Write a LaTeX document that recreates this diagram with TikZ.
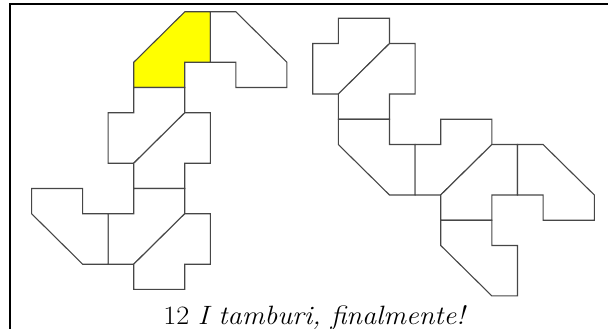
\documentclass[tikz,border=0pt]{standalone}
\usepackage{fontspec}
\usepackage{graphicx}
\usepackage{tikz}
\definecolor{edgegray}{RGB}{70,70,70}
\definecolor{drumyellow}{RGB}{255,255,0}
\tikzset{
  piece/.style={draw=edgegray, line width=1.1pt, line join=miter, fill=white},
  hilite/.style={piece, fill=drumyellow},
  frameline/.style={draw=black, line width=2.2pt},
  captiontext/.style={anchor=base, inner sep=0pt, font=\fontsize{26.5}{31}\selectfont}
}
\begin{document}
\begin{tikzpicture}[x=1pt,y=-1pt]
\useasboundingbox (0,0) rectangle (608,329);
\begin{scope}
\clip (0,0) rectangle (608,329);
\draw[frameline] (10,4) rectangle (720,420);
\end{scope}
% left figure
\begin{scope}[shift={(31.6pt,-11.8pt)}, x=25.53pt, y=-25.24pt]
\draw[hilite] (4,2) -- (6,0) -- (7,0) -- (7,2) -- (6,2) -- (6,3) -- (4,3) -- cycle;
\draw[piece] (7,0) -- (8,0) -- (10,2) -- (10,3) -- (8,3) -- (8,2) -- (7,2) -- cycle;
\draw[piece] (4,3) -- (6,3) -- (6,4) -- (4,6) -- (3,6) -- (3,4) -- (4,4) -- cycle;
\draw[piece] (6,4) -- (7,4) -- (7,6) -- (6,6) -- (6,7) -- (4,7) -- (4,6) -- cycle;
\draw[piece] (4,7) -- (6,7) -- (6,8) -- (4,10) -- (3,10) -- (3,8) -- (4,8) -- cycle;
\draw[piece] (6,8) -- (7,8) -- (7,10) -- (6,10) -- (6,11) -- (4,11) -- (4,10) -- cycle;
\draw[piece] (0,7) -- (2,7) -- (2,8) -- (3,8) -- (3,10) -- (2,10) -- (0,8) -- cycle;
\end{scope}
% right figure
\begin{scope}[shift={(312.7pt,-18.3pt)}, x=25.6pt, y=-25.24pt]
\draw[piece] (1,0) -- (3,0) -- (3,1) -- (1,3) -- (0,3) -- (0,1) -- (1,1) -- cycle;
\draw[piece] (3,1) -- (4,1) -- (4,3) -- (3,3) -- (3,4) -- (1,4) -- (1,3) -- cycle;
\draw[piece] (1,4) -- (3,4) -- (3,5) -- (4,5) -- (4,7) -- (3,7) -- (1,5) -- cycle;
\draw[piece] (5,4) -- (7,4) -- (7,5) -- (5,7) -- (4,7) -- (4,5) -- (5,5) -- cycle;
\draw[piece] (7,5) -- (8,5) -- (8,7) -- (7,7) -- (7,8) -- (5,8) -- (5,7) -- cycle;
\draw[piece] (8,5) -- (9,5) -- (11,7) -- (11,8) -- (9,8) -- (9,7) -- (8,7) -- cycle;
\draw[piece] (5,8) -- (7,8) -- (7,9) -- (8,9) -- (8,11) -- (7,11) -- (5,9) -- cycle;
\end{scope}
\node[captiontext] (caption) at (315,324) {\scalebox{1.07}[1]{12 \textit{I tamburi, finalmente!}}};
\end{tikzpicture}
\end{document}
